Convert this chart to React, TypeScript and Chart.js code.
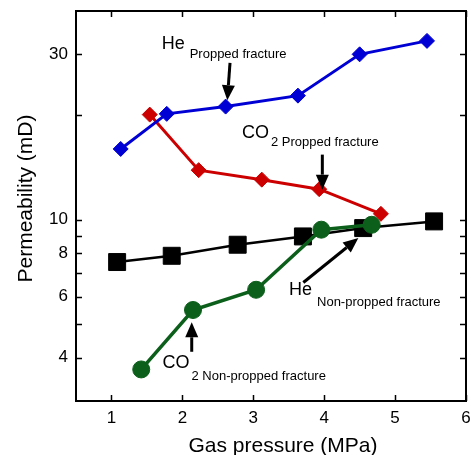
import React, { useEffect, useRef } from "react";
import { Chart, registerables } from "chart.js";

Chart.register(...registerables);

// ---- data ----
const heProppedPressure = [1.13, 1.78, 2.61, 3.63, 4.5, 5.45];
const heProppedPerm = [16.0, 20.2, 21.2, 22.8, 30.0, 32.8];

const co2ProppedPressure = [1.54, 2.23, 3.12, 3.93, 4.8];
const co2ProppedPerm = [20.1, 13.9, 13.05, 12.25, 10.4];

const heNonPressure = [1.08, 1.85, 2.78, 3.7, 4.55, 5.55];
const heNonPerm = [7.55, 7.87, 8.47, 8.95, 9.46, 9.89];

const co2NonPressure = [1.42, 2.15, 3.04, 3.96, 4.67];
const co2NonPerm = [3.7, 5.49, 6.28, 9.36, 9.67];

const xTicks = [1, 2, 3, 4, 5, 6];
const yTicks = [4, 5, 6, 7, 8, 9, 10, 20, 30];
const yTickLabels = [4, 6, 8, 10, 30];

const xTitle = "Gas pressure (MPa)";
const yTitle = "Permeability (mD)";

// annotation labels (data coordinates of the main text's left/middle)
const noteMain = ["He", "CO", "He", "CO"];
const noteSub = ["Propped fracture", "2 Propped fracture", "Non-propped fracture", "2 Non-propped fracture"];
const noteX = [1.708, 2.841, 3.504, 1.72];
const noteY = [32.2, 17.82, 6.28, 3.87];
const noteGap = [5, 2, 5, 2];
const noteDy = [10.6, 10, 12.5, 14];

// arrows (data coordinates tail -> tip)
const arrowFromX = [2.672, 3.974, 3.706, 2.132];
const arrowFromY = [28.36, 15.41, 6.59, 4.16];
const arrowToX = [2.634, 3.974, 4.482, 2.132];
const arrowToY = [22.13, 12.21, 8.85, 5.06];

const FONT = "'Liberation Sans', Arial, Helvetica, sans-serif";

function pts(xs: number[], ys: number[]) {
  return xs.map((x, i) => ({ x, y: ys[i] }));
}

function zeroPad(s: any) {
  s.paddingTop = 0;
  s.paddingBottom = 0;
  s.paddingLeft = 0;
  s.paddingRight = 0;
}

const framePlugin = {
  id: "frameAndNotes",
  afterDraw(chart: any) {
    const { ctx, chartArea, scales } = chart;
    const { left, right, top, bottom } = chartArea;
    const xs = scales.x;
    const ys = scales.y;
    ctx.save();
    ctx.strokeStyle = "#000";
    ctx.lineWidth = 2;
    ctx.strokeRect(left, top, right - left, bottom - top);
    ctx.lineWidth = 1.5;
    const tl = 6;
    ctx.beginPath();
    xTicks.forEach((v) => {
      const px = Math.round(xs.getPixelForValue(v)) + 0.5;
      ctx.moveTo(px, bottom);
      ctx.lineTo(px, bottom - tl);
      ctx.moveTo(px, top);
      ctx.lineTo(px, top + tl);
    });
    yTicks.forEach((v) => {
      const py = Math.round(ys.getPixelForValue(v)) + 0.5;
      ctx.moveTo(left, py);
      ctx.lineTo(left + tl, py);
      ctx.moveTo(right, py);
      ctx.lineTo(right - tl, py);
    });
    ctx.stroke();

    // arrows
    ctx.fillStyle = "#000";
    arrowFromX.forEach((_, i) => {
      const x0 = xs.getPixelForValue(arrowFromX[i]);
      const y0 = ys.getPixelForValue(arrowFromY[i]);
      const x1 = xs.getPixelForValue(arrowToX[i]);
      const y1 = ys.getPixelForValue(arrowToY[i]);
      const ang = Math.atan2(y1 - y0, x1 - x0);
      const hl = 15;
      const hw = 6.5;
      const bx = x1 - Math.cos(ang) * hl;
      const by = y1 - Math.sin(ang) * hl;
      ctx.lineWidth = 3;
      ctx.beginPath();
      ctx.moveTo(x0, y0);
      ctx.lineTo(bx, by);
      ctx.stroke();
      ctx.beginPath();
      ctx.moveTo(x1, y1);
      ctx.lineTo(bx - Math.sin(ang) * hw, by + Math.cos(ang) * hw);
      ctx.lineTo(bx + Math.sin(ang) * hw, by - Math.cos(ang) * hw);
      ctx.closePath();
      ctx.fill();
    });

    // labels
    ctx.textBaseline = "middle";
    ctx.textAlign = "left";
    noteMain.forEach((m, i) => {
      const px = xs.getPixelForValue(noteX[i]);
      const py = ys.getPixelForValue(noteY[i]);
      ctx.font = `18px ${FONT}`;
      ctx.fillText(m, px, py);
      const w = ctx.measureText(m).width;
      ctx.font = `13px ${FONT}`;
      ctx.fillText(noteSub[i], px + w + noteGap[i], py + noteDy[i]);
    });

    // axis titles
    ctx.font = `21px ${FONT}`;
    ctx.textAlign = "center";
    ctx.textBaseline = "alphabetic";
    ctx.fillText(xTitle, (left + right) / 2 + 12, 451.5);
    ctx.save();
    ctx.translate(31.5, (top + bottom) / 2 - 7.5);
    ctx.rotate(-Math.PI / 2);
    ctx.fillText(yTitle, 0, 0);
    ctx.restore();
    ctx.restore();
  },
};

export default function App() {
  const ref = useRef<HTMLCanvasElement | null>(null);
  useEffect(() => {
    if (!ref.current) return;
    const chart = new Chart(ref.current, {
      type: "line",
      data: {
        datasets: [
          {
            label: "CO2 Non-propped fracture",
            data: pts(co2NonPressure, co2NonPerm),
            borderColor: "#0c5f1b",
            backgroundColor: "#0c5f1b",
            borderWidth: 3.5,
            pointStyle: "circle",
            pointRadius: 8.5,
            pointBorderWidth: 1,
          },
          {
            label: "He Propped fracture",
            data: pts(heProppedPressure, heProppedPerm),
            borderColor: "#0000d4",
            backgroundColor: "#0000d4",
            borderWidth: 3,
            pointStyle: "rectRot",
            pointRadius: 7.5,
            pointBorderWidth: 1,
          },
          {
            label: "CO2 Propped fracture",
            data: pts(co2ProppedPressure, co2ProppedPerm),
            borderColor: "#cc0000",
            backgroundColor: "#cc0000",
            borderWidth: 3,
            pointStyle: "rectRot",
            pointRadius: 7.5,
            pointBorderWidth: 1,
          },
          {
            label: "He Non-propped fracture",
            data: pts(heNonPressure, heNonPerm),
            borderColor: "#000000",
            backgroundColor: "#000000",
            borderWidth: 2.5,
            pointStyle: "rect",
            pointRadius: 12,
            pointBorderWidth: 1,
          },
        ],
      },
      options: {
        animation: false,
        responsive: true,
        maintainAspectRatio: false,
        layout: { autoPadding: false, padding: { top: 11, right: 5, left: 0, bottom: 0 } },
        plugins: { legend: { display: false }, tooltip: { enabled: false } },
        elements: { line: { tension: 0 } },
        scales: {
          x: {
            type: "linear",
            min: 0.5,
            max: 6,
            afterBuildTicks: (s: any) => {
              s.ticks = xTicks.map((v) => ({ value: v }));
            },
            afterFit: (s: any) => {
              s.height = 54;
              zeroPad(s);
            },
            ticks: {
              color: "#000",
              font: { family: FONT, size: 17 },
              padding: 7,
              maxRotation: 0,
              autoSkip: false,
            },
            grid: { display: false, drawTicks: false },
            border: { display: false },
          },
          y: {
            type: "logarithmic",
            min: 3,
            max: 40,
            afterBuildTicks: (s: any) => {
              s.ticks = yTicks.map((v) => ({ value: v }));
            },
            afterFit: (s: any) => {
              s.width = 76;
              zeroPad(s);
            },
            ticks: {
              color: "#000",
              font: { family: FONT, size: 17 },
              padding: 8,
              autoSkip: false,
              callback: (v: any) => (yTickLabels.includes(Number(v)) ? String(v) : ""),
            },
            grid: { display: false, drawTicks: false },
            border: { display: false },
          },
        },
      },
      plugins: [framePlugin],
    });
    return () => chart.destroy();
  }, []);
  return (
    <div style={{ position: "absolute", left: 0, top: 0, width: 471, height: 455, background: "#fff" }}>
      <canvas ref={ref} />
    </div>
  );
}
